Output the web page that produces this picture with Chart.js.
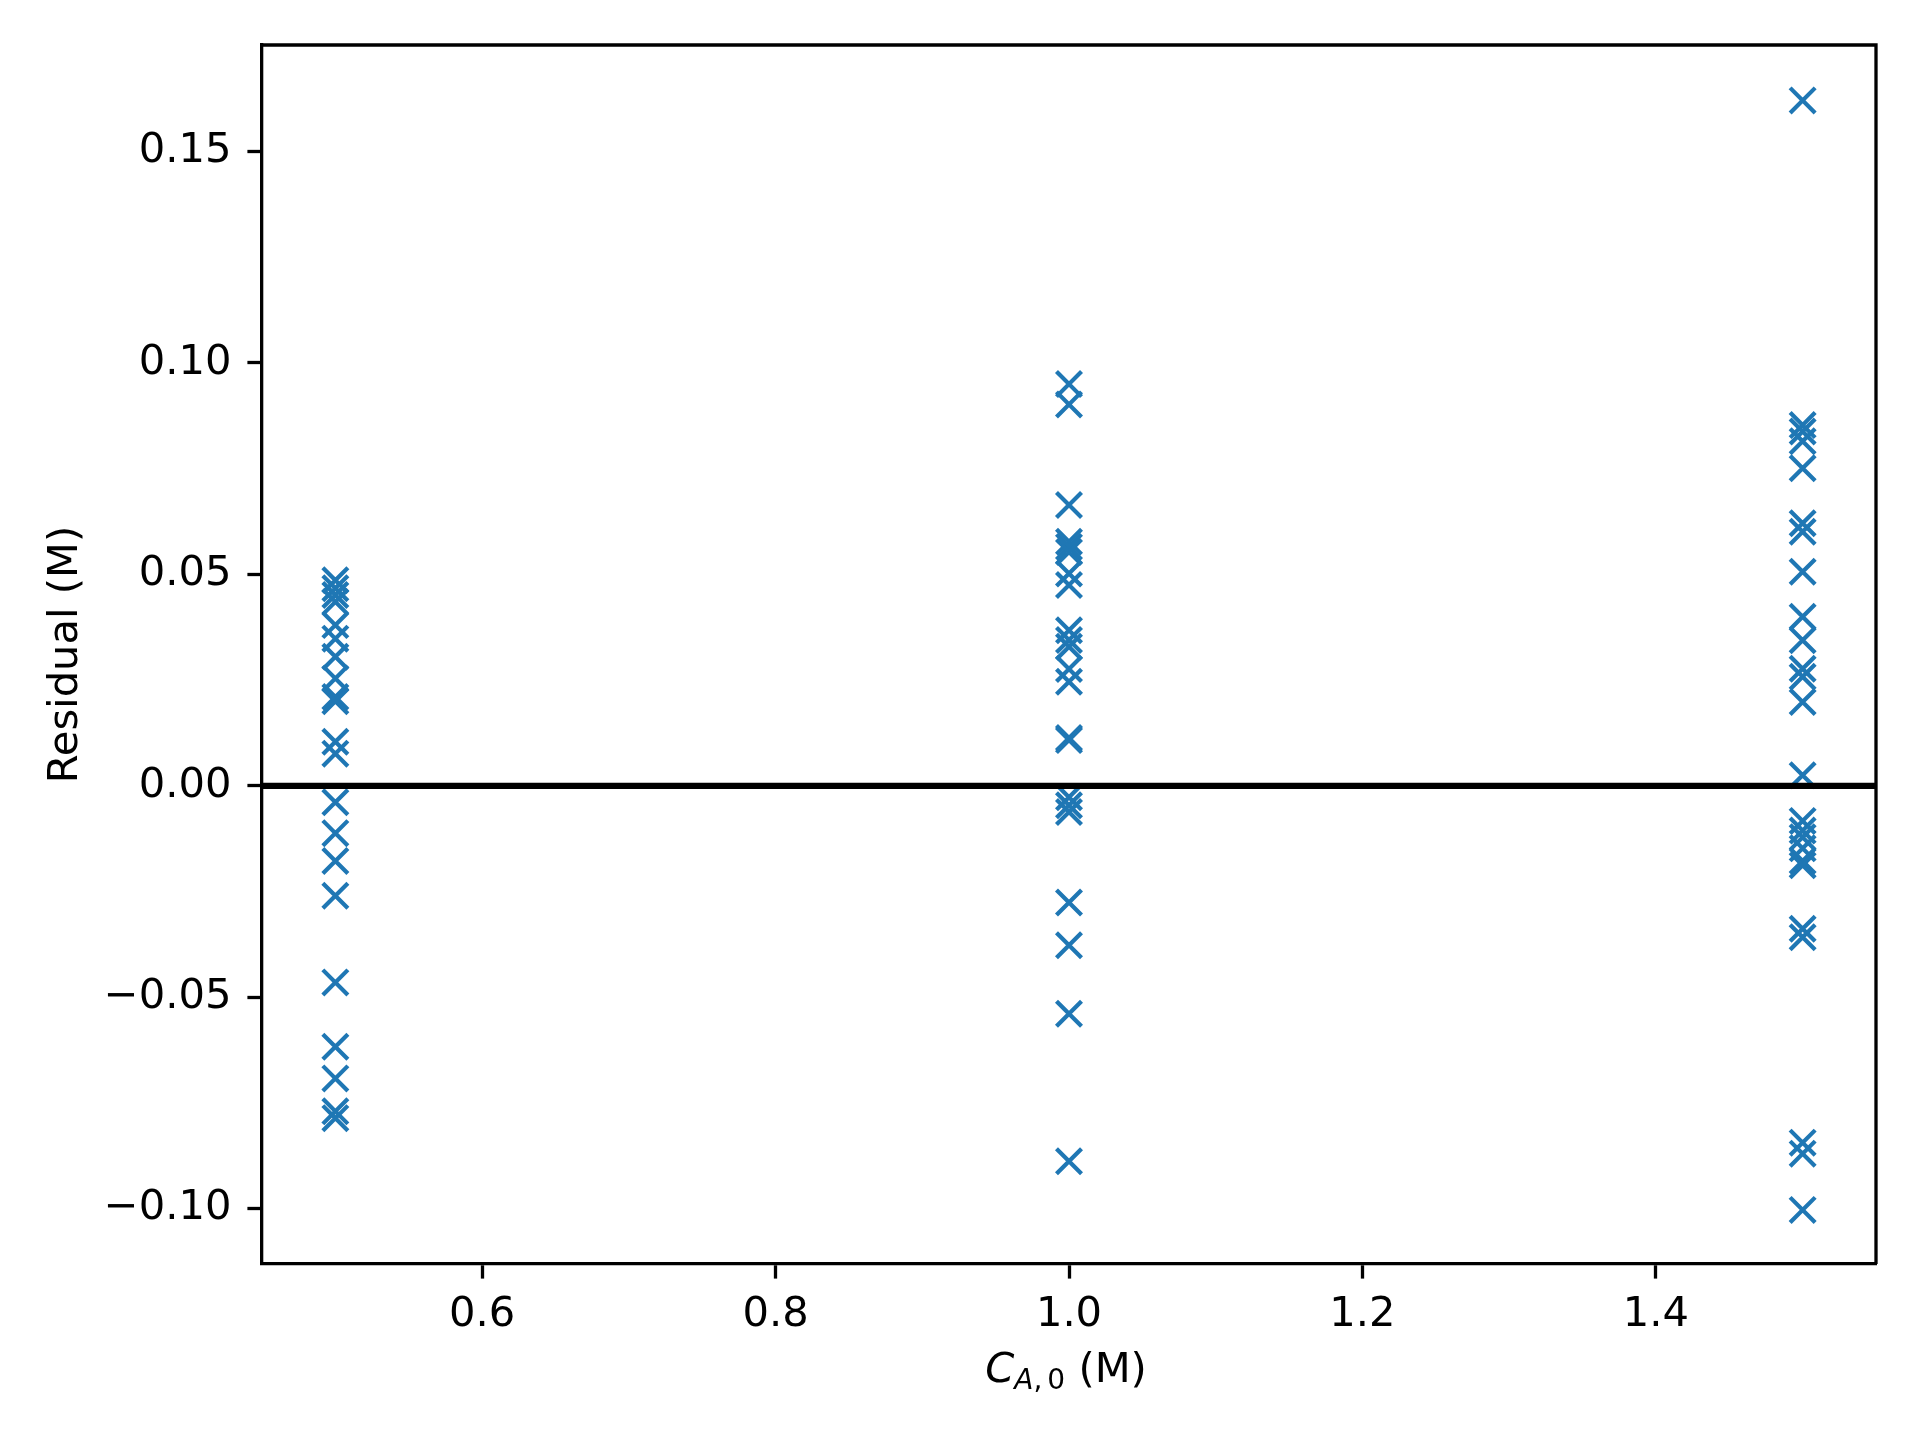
<!DOCTYPE html>
<html>
<head>
<meta charset="utf-8">
<title>Residuals</title>
<script src="https://cdn.jsdelivr.net/npm/chart.js@4/dist/chart.umd.min.js"></script>
<style>
  html, body { margin: 0; padding: 0; background: #fff; }
  canvas { display: block; }
</style>
</head>
<body>
<canvas id="residualChart" width="1920" height="1440"></canvas>
<script>
// initial concentrations (x positions of the three columns)
const concentrations = [0.5, 1.0, 1.5];

// residuals, one list per concentration
const residuals05 = [0.0486, 0.0467, 0.0451, 0.0435, 0.0380, 0.0348, 0.0305, 0.0254, 0.0210, 0.0200,
  0.0104, 0.0076, -0.0039, -0.0112, -0.0178, -0.0260, -0.0465, -0.0617, -0.0692, -0.0770, -0.0786];
const residuals10 = [0.0950, 0.0902, 0.0664, 0.0577, 0.0565, 0.0553, 0.0502, 0.0475, 0.0368, 0.0345,
  0.0329, 0.0276, 0.0246, 0.0113, 0.0108, -0.0027, -0.0046, -0.0062, -0.0276, -0.0377, -0.0539, -0.0888];
const residuals15 = [0.1621, 0.0853, 0.0838, 0.0815, 0.0751, 0.0621, 0.0601, 0.0506, 0.0400, 0.0344,
  0.0277, 0.0258, 0.0198, 0.0025, -0.0083, -0.0106, -0.0122, -0.0148, -0.0178, -0.0188, -0.0338,
  -0.0358, -0.0844, -0.0870, -0.1003];

// axis ranges and ticks
const xRange = [0.45, 1.55];
const yRange = [-0.1131, 0.1752];
const xTicks = [0.6, 0.8, 1.0, 1.2, 1.4];
const yTicks = [-0.10, -0.05, 0.00, 0.05, 0.10, 0.15];
const zeroLevel = 0;

const FONT = '"DejaVu Sans", sans-serif';
const FS = 41.67;

// build scatter points
const residualSets = [residuals05, residuals10, residuals15];
const points = [];
residualSets.forEach((list, i) => {
  list.forEach(r => points.push({ x: concentrations[i], y: r }));
});

const minus = s => s.replace('-', '\u2212');

// frame + axis titles
const decorations = {
  id: 'decorations',
  afterDraw(chart) {
    const c = chart.ctx;
    const a = chart.chartArea;
    c.save();

    // top and right spines
    c.strokeStyle = '#000';
    c.lineWidth = 3.3;
    c.beginPath();
    c.moveTo(a.left, a.top);
    c.lineTo(a.right, a.top);
    c.lineTo(a.right, a.bottom);
    c.stroke();

    c.fillStyle = '#000';

    // y label
    c.save();
    c.translate(77, (a.top + a.bottom) / 2);
    c.rotate(-Math.PI / 2);
    c.font = `${FS}px ${FONT}`;
    c.textAlign = 'center';
    c.textBaseline = 'alphabetic';
    c.fillText('Residual (M)', 0, 0);
    c.restore();

    // x label: C_{A,0} (M)
    const sub = 28;
    const parts = [
      { t: 'C', font: `italic ${FS}px ${FONT}`, dy: 0, gap: 0 },
      { t: 'A', font: `italic ${sub}px ${FONT}`, dy: 7, gap: 0 },
      { t: ',', font: `${sub}px ${FONT}`, dy: 7, gap: 5 },
      { t: '0', font: `${sub}px ${FONT}`, dy: 7, gap: 0 },
      { t: ' (M)', font: `${FS}px ${FONT}`, dy: 0, gap: 0 }
    ];
    let total = 0;
    parts.forEach(p => {
      c.font = p.font;
      p.w = c.measureText(p.t).width;
      total += p.w + p.gap;
    });
    let x = (a.left + a.right) / 2 - total / 2 - 3;
    const base = 1382;
    c.textAlign = 'left';
    c.textBaseline = 'alphabetic';
    parts.forEach(p => {
      c.font = p.font;
      c.fillText(p.t, x, base + p.dy);
      x += p.w + p.gap;
    });

    c.restore();
  }
};

const ctx = document.getElementById('residualChart').getContext('2d');

new Chart(ctx, {
  type: 'scatter',
  data: {
    datasets: [
      {
        type: 'line',
        data: [{ x: xRange[0], y: zeroLevel }, { x: xRange[1], y: zeroLevel }],
        borderColor: '#000',
        borderWidth: 6.25,
        pointRadius: 0,
        fill: false,
        order: 0
      },
      {
        data: points,
        pointStyle: 'crossRot',
        pointRadius: 17.7,
        pointHoverRadius: 17.7,
        borderColor: '#1f77b4',
        backgroundColor: '#1f77b4',
        pointBorderWidth: 4.2,
        borderWidth: 4.2,
        order: 1
      }
    ]
  },
  options: {
    responsive: false,
    animation: false,
    devicePixelRatio: 1,
    layout: { padding: { top: 45, right: 44, left: 0, bottom: 0 } },
    plugins: {
      legend: { display: false },
      tooltip: { enabled: false }
    },
    scales: {
      x: {
        type: 'linear',
        min: xRange[0],
        max: xRange[1],
        afterBuildTicks: s => { s.ticks = xTicks.map(v => ({ value: v })); },
        afterFit: s => { s.height = 176; },
        ticks: {
          color: '#000',
          font: { family: FONT, size: FS },
          padding: 12,
          maxRotation: 0,
          autoSkip: false,
          callback: v => minus(Number(v).toFixed(1))
        },
        grid: {
          drawOnChartArea: false,
          drawTicks: true,
          tickLength: 14.6,
          tickColor: '#000',
          tickWidth: 3.3
        },
        border: { display: true, color: '#000', width: 3.3 }
      },
      y: {
        type: 'linear',
        min: yRange[0],
        max: yRange[1],
        afterBuildTicks: s => { s.ticks = yTicks.map(v => ({ value: v })); },
        afterFit: s => { s.width = 262; },
        ticks: {
          color: '#000',
          font: { family: FONT, size: FS },
          padding: 16,
          autoSkip: false,
          callback: v => minus(Number(v).toFixed(2))
        },
        grid: {
          drawOnChartArea: false,
          drawTicks: true,
          tickLength: 14.6,
          tickColor: '#000',
          tickWidth: 3.3
        },
        border: { display: true, color: '#000', width: 3.3 }
      }
    }
  },
  plugins: [decorations]
});
</script>
</body>
</html>
